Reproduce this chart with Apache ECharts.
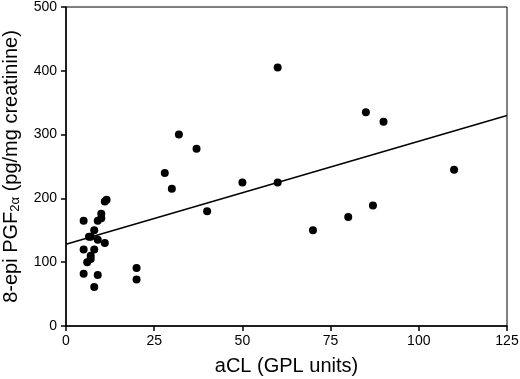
<!DOCTYPE html>
<html>
<head>
<meta charset="utf-8">
<script src="https://cdn.jsdelivr.net/npm/echarts@6/dist/echarts.min.js"></script>
<style>
  html, body { margin: 0; padding: 0; background: #fff; }
  #chart { width: 520px; height: 379px; }
</style>
</head>
<body>
<div id="chart"></div>
<script>
// aCL (GPL units) vs 8-epi PGF2a (pg/mg creatinine)
var aclValues = [5, 5, 5, 6, 6.5, 7, 7, 7, 8, 8, 8, 9, 9, 9, 10, 10, 11, 11, 11.5, 20, 20,
                 28, 30, 32, 37, 40, 50, 60, 60, 70, 80, 85, 87, 90, 110];
var pgfValues = [165, 120, 82, 100, 140, 140, 110, 105, 150, 120, 61, 165, 135, 80, 176, 169, 130, 195, 198, 91, 73,
                 240, 215, 300, 278, 180, 225, 405, 225, 150, 171, 335, 189, 320, 245];
var fitLine = [[0, 128], [125, 330]];

var xTicks = [0, 25, 50, 75, 100, 125];
var yTicks = [0, 100, 200, 300, 400, 500];

var points = [];
for (var i = 0; i < aclValues.length; i++) {
  points.push([aclValues[i], pgfValues[i]]);
}

var myChart = echarts.init(document.getElementById('chart'));
var font = 'Liberation Sans, Arial, sans-serif';

var option = {
  backgroundColor: '#fff',
  animation: false,
  grid: {
    left: 66, right: 13, top: 7, bottom: 53,
    containLabel: false,
    outerBoundsMode: 'none',
    show: true, borderColor: '#000', borderWidth: 1
  },
  xAxis: {
    type: 'value',
    min: xTicks[0], max: xTicks[xTicks.length - 1], interval: 25,
    name: 'aCL (GPL units)',
    nameLocation: 'middle',
    nameGap: 30,
    nameTextStyle: { color: '#000', fontSize: 20, fontFamily: font },
    axisLine: { lineStyle: { color: '#000', width: 1.5 } },
    axisTick: { show: true, length: 5, lineStyle: { color: '#000', width: 1.5 } },
    axisLabel: { color: '#000', fontSize: 14, fontFamily: font, margin: 8 },
    splitLine: { show: false }
  },
  yAxis: {
    type: 'value',
    min: yTicks[0], max: yTicks[yTicks.length - 1], interval: 100,
    name: '{a|8-epi PGF}{s|2α}{a| (pg/mg creatinine)}',
    nameLocation: 'middle',
    nameGap: 44,
    nameRotate: 90,
    nameTextStyle: {
      color: '#000', fontFamily: font,
      rich: {
        a: { fontSize: 20, color: '#000', fontFamily: font },
        s: { fontSize: 13, color: '#000', fontFamily: font, padding: [8, 0, 0, 0] }
      }
    },
    axisLine: { lineStyle: { color: '#000', width: 1.5 } },
    axisTick: { show: true, length: 5, lineStyle: { color: '#000', width: 1.5 } },
    axisLabel: { color: '#000', fontSize: 14, fontFamily: font, margin: 9 },
    splitLine: { show: false }
  },
  series: [
    {
      type: 'line',
      data: fitLine,
      symbol: 'none',
      lineStyle: { color: '#000', width: 1.5 },
      z: 2
    },
    {
      type: 'scatter',
      data: points,
      symbol: 'circle',
      symbolSize: 8,
      itemStyle: { color: '#000', opacity: 1 },
      z: 3
    }
  ]
};

myChart.setOption(option);
</script>
</body>
</html>
